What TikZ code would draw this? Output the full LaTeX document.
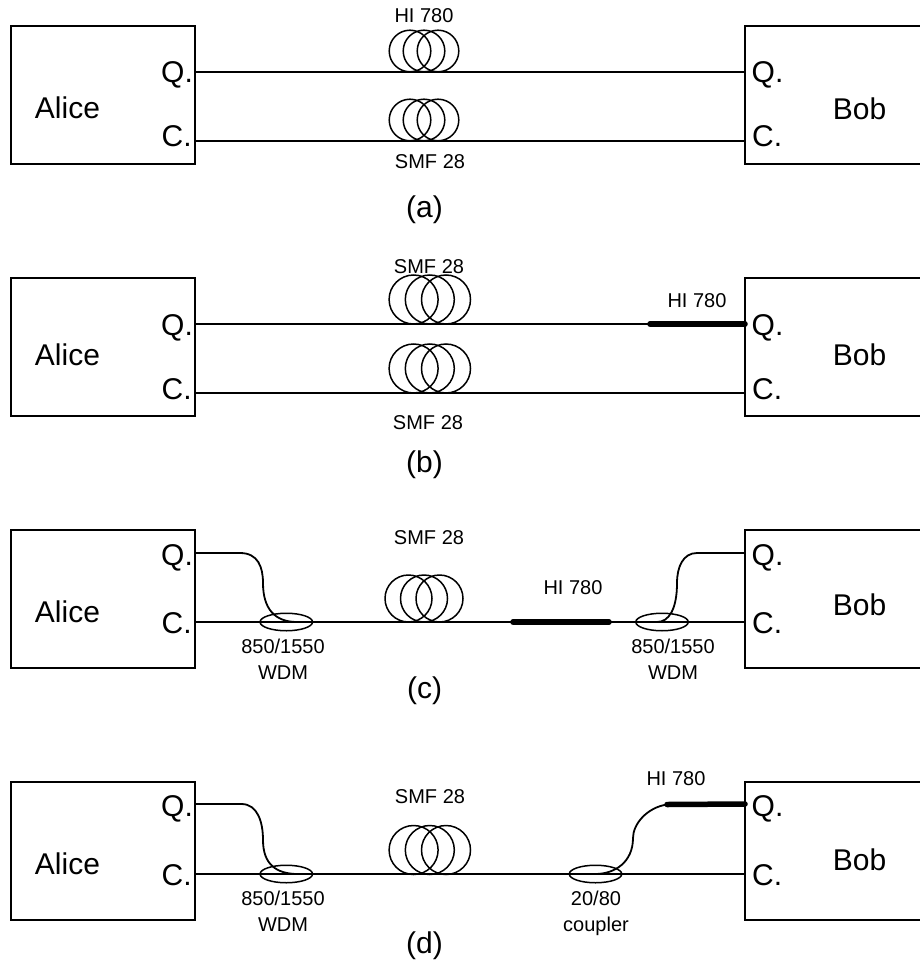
\documentclass[tikz,border=0pt]{standalone}
\usepackage{fontspec}
\setmainfont{Liberation Sans}
\usetikzlibrary{shapes.geometric}

\begin{document}
\begin{tikzpicture}[x=1pt,y=-1pt]
\tikzstyle{box} = [draw, line width=1.8pt, anchor=north west, minimum height=138pt, inner sep=0, outer sep=0]
\tikzstyle{coil} = [draw, circle, line width=1.5pt, inner sep=0, outer sep=0]
\tikzstyle{split} = [draw, ellipse, line width=1.5pt, minimum width=52.5pt, minimum height=17.5pt, inner sep=0, outer sep=0]
\tikzstyle{fiber} = [line width=1.8pt]
\tikzstyle{hifiber} = [line width=5.5pt, line cap=round]
\tikzstyle{big} = [anchor=base, inner sep=0, font=\fontsize{30}{32}\selectfont]
\tikzstyle{port} = [big, anchor=base west]
\tikzstyle{small} = [anchor=base, inner sep=0, font=\fontsize{20}{24}\selectfont]
\tikzstyle{two} = [anchor=north, inner sep=0, align=center, font=\fontsize{20}{26}\selectfont]

\useasboundingbox (0,0) rectangle (919,960);

% Boxes and ports of the four panels
\foreach \pan/\top/\qy/\cy/\qb/\cb/\ab/\bb/\lb in {
    a/26/72/141/83/147/119/120/217,
    b/278/324/393/335/399/365/365.5/472,
    c/530/553/622/565/633/622/615/698,
    d/782/804/874/816/885/874/870/953} {
  \node[box, minimum width=184pt] (alice-\pan) at (11,\top) {};
  \node[box, minimum width=190pt] (bob-\pan) at (745,\top) {};
  \coordinate (qa-\pan) at (195,\qy);
  \coordinate (ca-\pan) at (195,\cy);
  \coordinate (qb-\pan) at (745,\qy);
  \coordinate (cb-\pan) at (745,\cy);
  \node[big] (name-a-\pan) at (67.5,\ab) {Alice};
  \node[big] (name-b-\pan) at (859.5,\bb) {Bob};
  \node[port] (q-a-\pan) at (161,\qb) {Q.};
  \node[port] (c-a-\pan) at (161.5,\cb) {C.};
  \node[port] (q-b-\pan) at (751.5,\qb) {Q.};
  \node[port] (c-b-\pan) at (752,\cb) {C.};
  \node[big] (cap-\pan) at (424.5,\lb) {(\pan)};
}

% Fibre coils
\foreach \nm/\x/\y/\r/\d in {
    a1/424/51/20.8/14,
    a2/424/120/20.8/14,
    b1/429.8/299.5/24.5/16.2,
    b2/429.8/368.5/24.5/16.2,
    c1/424/598.5/23.5/15.5,
    d1/429.8/850/24.5/16.2} {
  \foreach \k/\s in {1/-1,2/0,3/1} {
    \node[coil, minimum size=2*\r pt] (coil-\nm-\k) at ({\x+\s*\d},\y) {};
  }
}

% Couplers
\node[split] (wdm-c-l) at (286.3,622) {};
\node[split] (wdm-c-r) at (662,622) {};
\node[split] (wdm-d-l) at (286.3,874) {};
\node[split] (cpl-d-r) at (595.5,874) {};

% Free ends of the fibres
\coordinate (hi-b) at (650,324);
\coordinate (hi-c1) at (513,622);
\coordinate (hi-c2) at (609,622);
\coordinate (hi-d) at (667,804.5);
\coordinate (knee-c-l) at (240,553);
\coordinate (mid-c-l) at (263,583);
\coordinate (end-c-l) at (297,622);
\coordinate (knee-c-r) at (697,553);
\coordinate (mid-c-r) at (677,583);
\coordinate (end-c-r) at (657,622);
\coordinate (knee-d-l) at (241.5,804);
\coordinate (mid-d-l) at (263,840);
\coordinate (end-d-l) at (298,874);
\coordinate (mid-d-r) at (633,838);
\coordinate (end-d-r) at (595,874);

% Straight runs
\foreach \pan in {a,b,c,d} {
  \draw[fiber] (ca-\pan) -- (cb-\pan);
}
\draw[fiber] (qa-a) -- (qb-a);
\draw[fiber] (qa-b) -- (qb-b);

% Curved branches
\draw[fiber] (qa-c) -- (knee-c-l) .. controls +(18,0) and +(0,-16) .. (mid-c-l) .. controls +(0,26) and +(-22,0) .. (end-c-l);
\draw[fiber] (qb-c) -- (knee-c-r) .. controls +(-14,0) and +(0,-16) .. (mid-c-r) .. controls +(0,26) and +(12,0) .. (end-c-r);
\draw[fiber] (qa-d) -- (knee-d-l) .. controls +(16,0) and +(0,-18) .. (mid-d-l) .. controls +(0,24) and +(-22,0) .. (end-d-l);
\draw[fiber] (hi-d) .. controls +(-20,3) and +(0,-14) .. (mid-d-r) .. controls +(0,24) and +(20,0) .. (end-d-r);

% Thick sections
\draw[hifiber] (hi-b) -- (qb-b);
\draw[hifiber] (hi-c1) -- (hi-c2);
\draw[hifiber] (hi-d) -- (qb-d);

% Labels
\node[small] (lab-a1) at (424,23) {HI 780};
\node[small] (lab-a2) at (430,169) {SMF 28};
\node[small] (lab-b1) at (429,273) {SMF 28};
\node[small] (lab-b2) at (428,429) {SMF 28};
\node[small] (lab-b3) at (697,307) {HI 780};
\node[small] (lab-c1) at (429,544) {SMF 28};
\node[small] (lab-c2) at (573,594) {HI 780};
\node[small] (lab-d1) at (430,803) {SMF 28};
\node[small] (lab-d2) at (676,785) {HI 780};
\node[two] (lab-c3) at (283,639) {850/1550\\WDM};
\node[two] (lab-c4) at (673,639) {850/1550\\WDM};
\node[two] (lab-d3) at (283,891) {850/1550\\WDM};
\node[two] (lab-d4) at (596,891) {20/80\\coupler};

\end{tikzpicture}
\end{document}
